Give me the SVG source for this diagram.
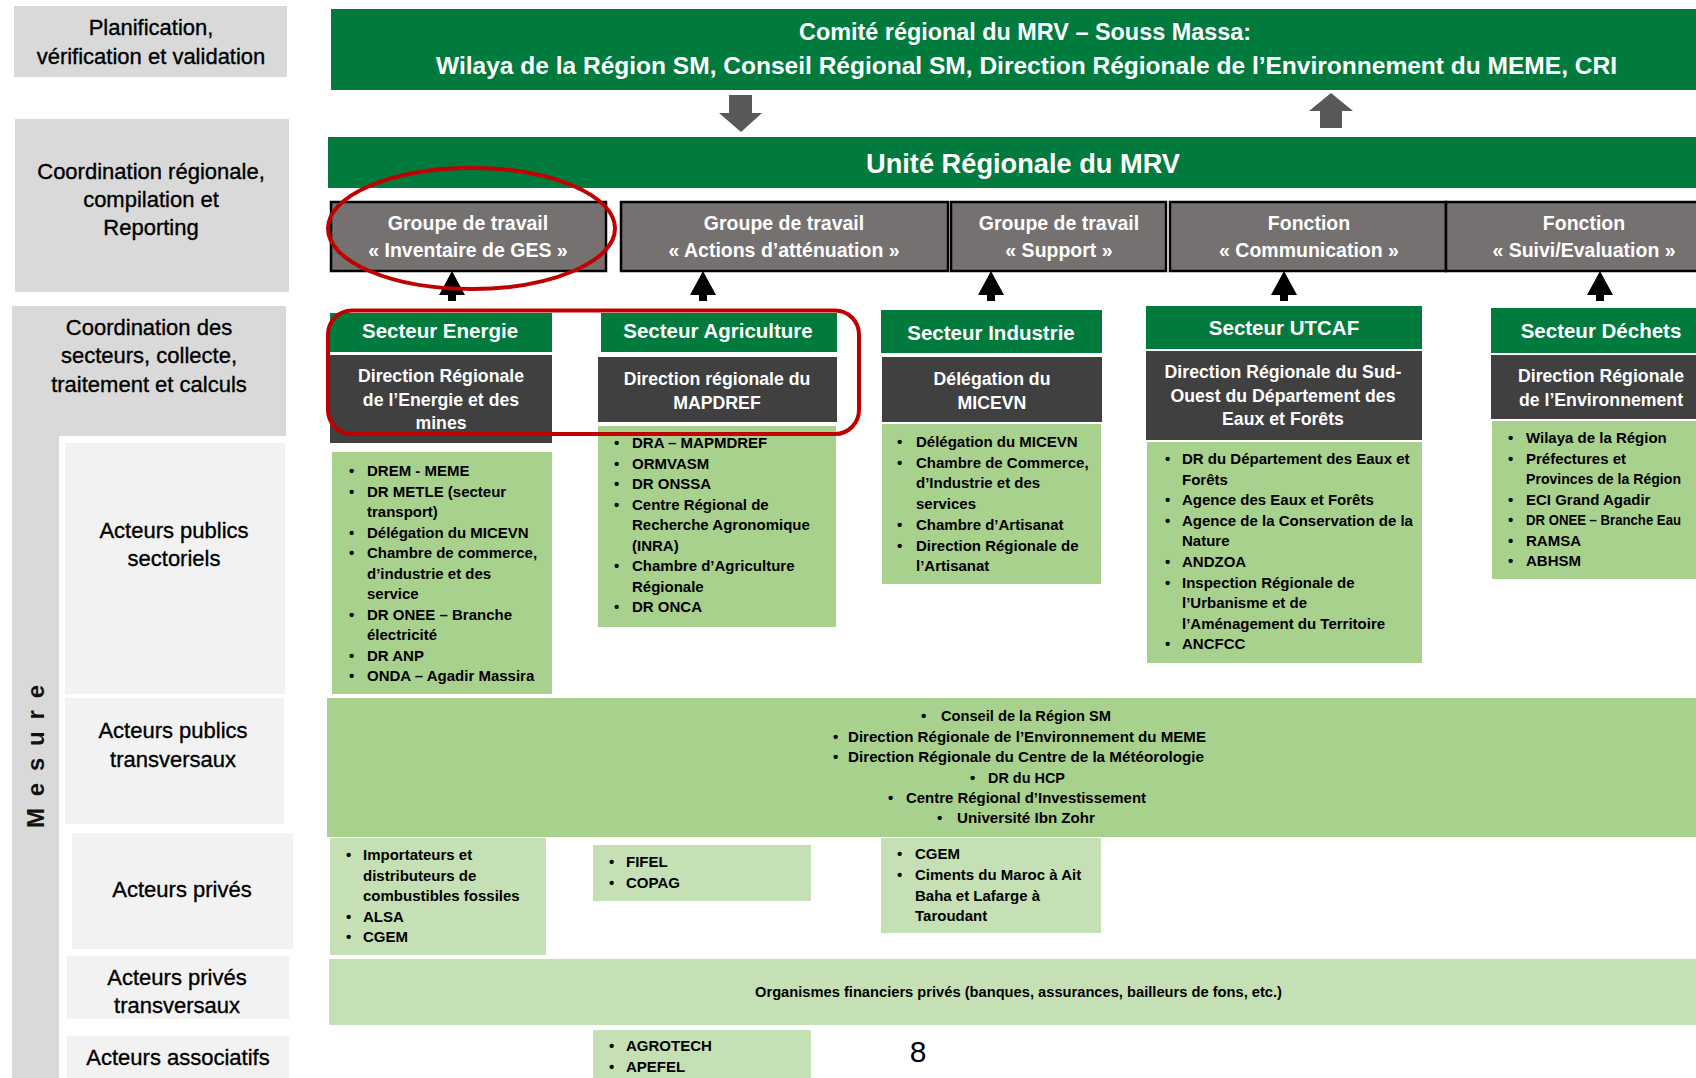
<svg xmlns="http://www.w3.org/2000/svg" width="1696" height="1078" viewBox="0 0 1696 1078">
<style>
text{font-family:"Liberation Sans",Arial,sans-serif}
.lbl{font-size:22px;fill:#000;stroke:#000;stroke-width:0.35;text-anchor:middle}
.ban{font-weight:bold;fill:#fff;font-size:23px}
.grpt{font-weight:bold;font-size:19.5px;fill:#fff;text-anchor:middle}
.hdr{font-weight:bold;font-size:20.5px;fill:#fff;text-anchor:middle}
.dir{font-weight:bold;font-size:17.7px;fill:#fff;text-anchor:middle}
.li{font-weight:bold;font-size:15px;fill:#000}
.green{fill:#017a3e}
.dark{fill:#404040}
.lg{fill:#a9d18e}
.llg{fill:#c5e0b4}
.gbox{fill:#767171;stroke:#000;stroke-width:2.5}
.side{fill:#d9d9d9}
.sub{fill:#f2f2f2}
.red{fill:none;stroke:#c00000;stroke-width:4}
.arr{fill:#000}
.garr{fill:#595959}
</style>
<rect width="1696" height="1078" fill="#fff"/>

<!-- Left column labels -->
<g id="lbl-planification">
<rect class="side" x="14" y="6" width="273" height="71"/>
<text class="lbl"><tspan x="151" y="35">Planification,</tspan><tspan x="151" y="64">vérification et validation</tspan></text>
</g>
<g id="lbl-coordination-regionale">
<rect class="side" x="15" y="119" width="274" height="173"/>
<text class="lbl"><tspan x="151" y="179">Coordination régionale,</tspan><tspan x="151" y="207">compilation et</tspan><tspan x="151" y="235">Reporting</tspan></text>
</g>
<g id="lbl-coordination-secteurs">
<rect class="side" x="12" y="306" width="274" height="130"/>
<rect class="side" x="12" y="306" width="47" height="772"/>
<text class="lbl"><tspan x="149" y="335">Coordination des</tspan><tspan x="149" y="363">secteurs, collecte,</tspan><tspan x="149" y="392">traitement et calculs</tspan></text>
<text transform="translate(44,756.5) rotate(-90)" x="-71.5" y="0" style="font-size:24px;font-weight:bold;fill:#111" textLength="143" lengthAdjust="spacing">M e s u r e</text>
</g>
<g id="lbl-publics-sectoriels">
<rect class="sub" x="65" y="443" width="220" height="251"/>
<text class="lbl"><tspan x="174" y="538">Acteurs publics</tspan><tspan x="174" y="566">sectoriels</tspan></text>
</g>
<g id="lbl-publics-transversaux">
<rect class="sub" x="65" y="698" width="219" height="126"/>
<text class="lbl"><tspan x="173" y="738">Acteurs publics</tspan><tspan x="173" y="767">transversaux</tspan></text>
</g>
<g id="lbl-prives">
<rect class="sub" x="72" y="833" width="221" height="116"/>
<text class="lbl" x="182" y="897">Acteurs privés</text>
</g>
<g id="lbl-prives-transversaux">
<rect class="sub" x="67" y="956" width="222" height="63"/>
<text class="lbl"><tspan x="177" y="985">Acteurs privés</tspan><tspan x="177" y="1013">transversaux</tspan></text>
</g>
<g id="lbl-associatifs">
<rect class="sub" x="67" y="1036" width="222" height="42"/>
<text class="lbl" x="178" y="1065">Acteurs associatifs</text>
</g>

<!-- Top banners -->
<g id="comite-regional">
<rect class="green" x="331" y="9" width="1365" height="81"/>
<text class="ban" x="799" y="40" textLength="452" lengthAdjust="spacingAndGlyphs">Comité régional du MRV – Souss Massa:</text>
<text class="ban" x="436" y="74" textLength="1181" lengthAdjust="spacingAndGlyphs">Wilaya de la Région SM, Conseil Régional SM, Direction Régionale de l’Environnement du MEME, CRI</text>
</g>
<g id="unite-regionale">
<rect class="green" x="328" y="137" width="1368" height="51"/>
<text class="ban" x="866" y="173" style="font-size:27px" textLength="314" lengthAdjust="spacingAndGlyphs">Unité Régionale du MRV</text>
</g>

<!-- Working groups -->
<g id="gt-inventaire">
<rect class="gbox" x="331" y="202" width="275" height="69"/>
<text class="grpt"><tspan x="468" y="230">Groupe de travail</tspan><tspan x="468" y="257">« Inventaire de GES »</tspan></text>
</g>
<g id="gt-attenuation">
<rect class="gbox" x="621" y="202" width="327" height="69"/>
<text class="grpt"><tspan x="784" y="230">Groupe de travail</tspan><tspan x="784" y="257">« Actions d’atténuation »</tspan></text>
</g>
<g id="gt-support">
<rect class="gbox" x="951" y="202" width="215" height="69"/>
<text class="grpt"><tspan x="1059" y="230">Groupe de travail</tspan><tspan x="1059" y="257">« Support »</tspan></text>
</g>
<g id="fn-communication">
<rect class="gbox" x="1170" y="202" width="276" height="69"/>
<text class="grpt"><tspan x="1309" y="230">Fonction</tspan><tspan x="1309" y="257">« Communication »</tspan></text>
</g>
<g id="fn-suivi">
<rect class="gbox" x="1446" y="202" width="262" height="69"/>
<text class="grpt"><tspan x="1584" y="230">Fonction</tspan><tspan x="1584" y="257">« Suivi/Evaluation »</tspan></text>
</g>

<!-- Sector Energie -->
<g id="secteur-energie">
<rect class="green" x="330" y="313" width="222" height="39"/>
<text class="hdr" x="440" y="338">Secteur Energie</text>
<rect class="dark" x="330" y="355" width="222" height="88"/>
<text class="dir"><tspan x="441" y="382">Direction Régionale</tspan><tspan x="441" y="406">de l’Energie et des</tspan><tspan x="441" y="429">mines</tspan></text>
<rect class="lg" x="332" y="452" width="220" height="242"/>
<text class="li"><tspan x="349" y="476">•</tspan><tspan x="349" y="496.5">•</tspan><tspan x="349" y="537.5">•</tspan><tspan x="349" y="558">•</tspan><tspan x="349" y="619.5">•</tspan><tspan x="349" y="660.5">•</tspan><tspan x="349" y="681">•</tspan></text>
<text class="li"><tspan x="367" y="476">DREM - MEME</tspan><tspan x="367" y="496.5">DR METLE (secteur</tspan><tspan x="367" y="517">transport)</tspan><tspan x="367" y="537.5">Délégation du MICEVN</tspan><tspan x="367" y="558">Chambre de commerce,</tspan><tspan x="367" y="578.5">d’industrie et des</tspan><tspan x="367" y="599">service</tspan><tspan x="367" y="619.5">DR ONEE – Branche</tspan><tspan x="367" y="640">électricité</tspan><tspan x="367" y="660.5">DR ANP</tspan><tspan x="367" y="681">ONDA – Agadir Massira</tspan></text>
</g>

<!-- Sector Agriculture -->
<g id="secteur-agriculture">
<rect class="green" x="601" y="313" width="236" height="39"/>
<text class="hdr" x="718" y="338">Secteur Agriculture</text>
<rect class="dark" x="598" y="357" width="239" height="65"/>
<text class="dir"><tspan x="717" y="385">Direction régionale du</tspan><tspan x="717" y="409">MAPDREF</tspan></text>
<rect class="lg" x="598" y="426" width="238" height="201"/>
<text class="li"><tspan x="614" y="448">•</tspan><tspan x="614" y="468.5">•</tspan><tspan x="614" y="489">•</tspan><tspan x="614" y="509.5">•</tspan><tspan x="614" y="571">•</tspan><tspan x="614" y="612">•</tspan></text>
<text class="li"><tspan x="632" y="448">DRA – MAPMDREF</tspan><tspan x="632" y="468.5">ORMVASM</tspan><tspan x="632" y="489">DR ONSSA</tspan><tspan x="632" y="509.5">Centre Régional de</tspan><tspan x="632" y="530">Recherche Agronomique</tspan><tspan x="632" y="550.5">(INRA)</tspan><tspan x="632" y="571">Chambre d’Agriculture</tspan><tspan x="632" y="591.5">Régionale</tspan><tspan x="632" y="612">DR ONCA</tspan></text>
</g>

<!-- Sector Industrie -->
<g id="secteur-industrie">
<rect class="green" x="881" y="310" width="221" height="43"/>
<text class="hdr" x="991" y="340">Secteur Industrie</text>
<rect class="dark" x="882" y="357" width="220" height="65"/>
<text class="dir"><tspan x="992" y="385">Délégation du</tspan><tspan x="992" y="409">MICEVN</tspan></text>
<rect class="lg" x="882" y="424" width="219" height="160"/>
<text class="li"><tspan x="897" y="447">•</tspan><tspan x="897" y="467.7">•</tspan><tspan x="897" y="529.8">•</tspan><tspan x="897" y="550.5">•</tspan></text>
<text class="li"><tspan x="916" y="447">Délégation du MICEVN</tspan><tspan x="916" y="467.7">Chambre de Commerce,</tspan><tspan x="916" y="488.4">d’Industrie et des</tspan><tspan x="916" y="509">services</tspan><tspan x="916" y="529.8">Chambre d’Artisanat</tspan><tspan x="916" y="550.5">Direction Régionale de</tspan><tspan x="916" y="571">l’Artisanat</tspan></text>
</g>

<!-- Sector UTCAF -->
<g id="secteur-utcaf">
<rect class="green" x="1146" y="306" width="276" height="43"/>
<text class="hdr" x="1284" y="335">Secteur UTCAF</text>
<rect class="dark" x="1146" y="351" width="276" height="89"/>
<text class="dir"><tspan x="1283" y="378">Direction Régionale du Sud-</tspan><tspan x="1283" y="402">Ouest du Département des</tspan><tspan x="1283" y="425">Eaux et Forêts</tspan></text>
<rect class="lg" x="1147" y="442" width="275" height="221"/>
<text class="li"><tspan x="1165" y="464">•</tspan><tspan x="1165" y="505.2">•</tspan><tspan x="1165" y="525.8">•</tspan><tspan x="1165" y="567">•</tspan><tspan x="1165" y="587.6">•</tspan><tspan x="1165" y="649.4">•</tspan></text>
<text class="li"><tspan x="1182" y="464">DR du Département des Eaux et</tspan><tspan x="1182" y="484.6">Forêts</tspan><tspan x="1182" y="505.2">Agence des Eaux et Forêts</tspan><tspan x="1182" y="525.8">Agence de la Conservation de la</tspan><tspan x="1182" y="546.4">Nature</tspan><tspan x="1182" y="567">ANDZOA</tspan><tspan x="1182" y="587.6">Inspection Régionale de</tspan><tspan x="1182" y="608.2">l’Urbanisme et de</tspan><tspan x="1182" y="628.8">l’Aménagement du Territoire</tspan><tspan x="1182" y="649.4">ANCFCC</tspan></text>
</g>

<!-- Sector Dechets -->
<g id="secteur-dechets">
<rect class="green" x="1491" y="308" width="205" height="45"/>
<text class="hdr" x="1601" y="338">Secteur Déchets</text>
<rect class="dark" x="1491" y="355" width="205" height="64"/>
<text class="dir"><tspan x="1601" y="382">Direction Régionale</tspan><tspan x="1601" y="406">de l’Environnement</tspan></text>
<rect class="lg" x="1492" y="421" width="204" height="158"/>
<text class="li"><tspan x="1508" y="443">•</tspan><tspan x="1508" y="463.5">•</tspan><tspan x="1508" y="504.5">•</tspan><tspan x="1508" y="525">•</tspan><tspan x="1508" y="545.5">•</tspan><tspan x="1508" y="566">•</tspan></text>
<text class="li" x="1526" y="443">Wilaya de la Région</text>
<text class="li" x="1526" y="463.5">Préfectures et</text>
<text class="li" x="1526" y="484" textLength="155" lengthAdjust="spacingAndGlyphs">Provinces de la Région</text>
<text class="li" x="1526" y="504.5">ECI Grand Agadir</text>
<text class="li" x="1526" y="525" textLength="155" lengthAdjust="spacingAndGlyphs">DR ONEE – Branche Eau</text>
<text class="li" x="1526" y="545.5">RAMSA</text>
<text class="li" x="1526" y="566">ABHSM</text>
</g>

<!-- Transversal public actors -->
<g id="publics-transversaux">
<rect class="lg" x="327" y="698" width="1369" height="139"/>
<text class="li"><tspan x="921" y="721">•</tspan><tspan x="833" y="742">•</tspan><tspan x="833" y="762">•</tspan><tspan x="970" y="783">•</tspan><tspan x="888" y="803">•</tspan><tspan x="937" y="823">•</tspan></text>
<text class="li" x="941" y="721" textLength="170" lengthAdjust="spacingAndGlyphs">Conseil de la Région SM</text>
<text class="li" x="848" y="742" textLength="358" lengthAdjust="spacingAndGlyphs">Direction Régionale de l’Environnement du MEME</text>
<text class="li" x="848" y="762" textLength="356" lengthAdjust="spacingAndGlyphs">Direction Régionale du Centre de la Météorologie</text>
<text class="li" x="988" y="783" textLength="77" lengthAdjust="spacingAndGlyphs">DR du HCP</text>
<text class="li" x="906" y="803" textLength="240" lengthAdjust="spacingAndGlyphs">Centre Régional d’Investissement</text>
<text class="li" x="957" y="823" textLength="138" lengthAdjust="spacingAndGlyphs">Université Ibn Zohr</text>
</g>

<!-- Private actors -->
<g id="prives-energie">
<rect class="llg" x="330" y="838" width="216" height="117"/>
<text class="li"><tspan x="346" y="860">•</tspan><tspan x="346" y="921.5">•</tspan><tspan x="346" y="942">•</tspan></text>
<text class="li"><tspan x="363" y="860">Importateurs et</tspan><tspan x="363" y="880.5">distributeurs de</tspan><tspan x="363" y="901">combustibles fossiles</tspan><tspan x="363" y="921.5">ALSA</tspan><tspan x="363" y="942">CGEM</tspan></text>
</g>
<g id="prives-agriculture">
<rect class="llg" x="593" y="845" width="218" height="56"/>
<text class="li"><tspan x="609" y="867">•</tspan><tspan x="609" y="888">•</tspan></text>
<text class="li"><tspan x="626" y="867">FIFEL</tspan><tspan x="626" y="888">COPAG</tspan></text>
</g>
<g id="prives-industrie">
<rect class="llg" x="881" y="838" width="220" height="95"/>
<text class="li"><tspan x="897" y="859">•</tspan><tspan x="897" y="880">•</tspan></text>
<text class="li"><tspan x="915" y="859">CGEM</tspan><tspan x="915" y="880">Ciments du Maroc  à Ait</tspan><tspan x="915" y="901">Baha et Lafarge à</tspan><tspan x="915" y="921">Taroudant</tspan></text>
</g>
<g id="prives-transversaux">
<rect class="llg" x="329" y="959" width="1367" height="66"/>
<text class="li" x="755" y="997" textLength="527" lengthAdjust="spacingAndGlyphs">Organismes financiers privés (banques, assurances, bailleurs de fons, etc.)</text>
</g>
<g id="associatifs-agriculture">
<rect class="llg" x="593" y="1030" width="218" height="48"/>
<text class="li"><tspan x="609" y="1051">•</tspan><tspan x="609" y="1072">•</tspan></text>
<text class="li"><tspan x="626" y="1051">AGROTECH</tspan><tspan x="626" y="1072">APEFEL</tspan></text>
</g>

<text id="page-number" x="918" y="1062" style="font-size:30px;fill:#000;text-anchor:middle">8</text>

<!-- Connectors -->
<g id="connectors">
<path class="garr" d="M729,95 H752 V113 H762 L741,132 L719,113 H729 Z"/>
<path class="garr" d="M1331,93 L1353,111 H1342 V128 H1320 V111 H1309 Z"/>
<path class="arr" d="M452,271 L465,295 H456 V301 H448 V295 H439 Z"/>
<path class="arr" d="M703,271 L716,295 H707 V301 H699 V295 H690 Z"/>
<path class="arr" d="M991,271 L1004,295 H995 V301 H987 V295 H978 Z"/>
<path class="arr" d="M1284,271 L1297,295 H1288 V301 H1280 V295 H1271 Z"/>
<path class="arr" d="M1600,271 L1613,295 H1604 V301 H1596 V295 H1587 Z"/>
</g>

<!-- Highlights -->
<g id="highlights">
<ellipse class="red" cx="471.5" cy="228.5" rx="143.5" ry="60.5"/>
<rect class="red" x="328" y="310.5" width="531" height="123.5" rx="24"/>
</g>
</svg>
